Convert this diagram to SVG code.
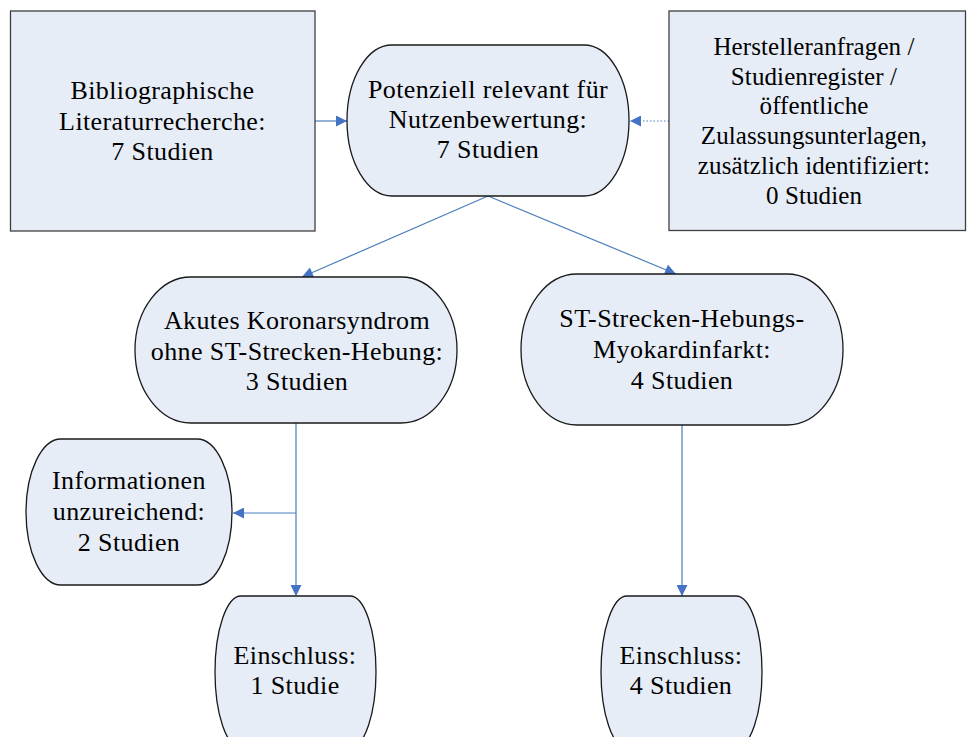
<svg xmlns="http://www.w3.org/2000/svg" width="967" height="737" viewBox="0 0 967 737">
<style>
.box{fill:#e7edf7;stroke:#3f3f3f;stroke-width:1.3}
.term{fill:#e7edf7;stroke:#1a1a1a;stroke-width:1.3}
.t{font-family:"Liberation Serif","Times New Roman",serif;font-size:26px;letter-spacing:0.4px;fill:#000;text-anchor:middle}
.s{font-size:25px;letter-spacing:0.1px}
.c{fill:none;stroke:#4a7ebb;stroke-width:1.2}
.dot{fill:none;stroke:#4a7ebb;stroke-width:1.2;stroke-dasharray:1.5 2}
</style>
<defs>
<marker id="arr" viewBox="0 0 10 10" refX="10" refY="5" markerWidth="13" markerHeight="11" markerUnits="userSpaceOnUse" orient="auto">
<path d="M0,0 L10,5 L0,10 z" fill="#4472c4"/>
</marker>
</defs>
<rect width="967" height="737" fill="#fff"/>
<g id="connectors">
<path class="c" d="M315,121 L347,121" marker-end="url(#arr)"/>
<path class="dot" d="M669,121 L630,121" marker-end="url(#arr)"/>
<path class="c" d="M488,196 L302,277" marker-end="url(#arr)"/>
<path class="c" d="M488,196 L676,274" marker-end="url(#arr)"/>
<path class="c" d="M296,423 L296,596" marker-end="url(#arr)"/>
<path class="c" d="M296,513 L233,513" marker-end="url(#arr)"/>
<path class="c" d="M682,425 L682,596" marker-end="url(#arr)"/>
</g>
<g id="n-biblio">
<rect class="box" x="10.5" y="11" width="304.5" height="220"/>
<text class="t" x="162.5" y="99">Bibliographische</text>
<text class="t" x="162.5" y="129.5">Literaturrecherche:</text>
<text class="t" x="162.5" y="160">7 Studien</text>
</g>
<g id="n-potenziell">
<rect class="term" x="347" y="45" width="282" height="151" rx="45" ry="75.5"/>
<text class="t" x="488" y="98">Potenziell relevant für</text>
<text class="t" x="488" y="128">Nutzenbewertung:</text>
<text class="t" x="488" y="158">7 Studien</text>
</g>
<g id="n-hersteller">
<rect class="box" x="669" y="11" width="296.5" height="219.5"/>
<text class="t s" x="814" y="55">Herstelleranfragen /</text>
<text class="t s" x="814" y="84.5">Studienregister /</text>
<text class="t s" x="814" y="114">öffentliche</text>
<text class="t s" x="814" y="144">Zulassungsunterlagen,</text>
<text class="t s" x="814" y="174">zusätzlich identifiziert:</text>
<text class="t s" x="814" y="204">0 Studien</text>
</g>
<g id="n-aks">
<rect class="term" x="135" y="277" width="322" height="146" rx="56" ry="73"/>
<text class="t" x="297" y="329">Akutes Koronarsyndrom</text>
<text class="t" x="297" y="359.5">ohne ST-Strecken-Hebung:</text>
<text class="t" x="297" y="390">3 Studien</text>
</g>
<g id="n-stemi">
<rect class="term" x="521" y="274" width="322" height="151" rx="56" ry="75.5"/>
<text class="t" x="682" y="327">ST-Strecken-Hebungs-</text>
<text class="t" x="682" y="358">Myokardinfarkt:</text>
<text class="t" x="682" y="389">4 Studien</text>
</g>
<g id="n-info">
<rect class="term" x="26" y="439" width="206" height="146" rx="35" ry="73"/>
<text class="t" x="129" y="489">Informationen</text>
<text class="t" x="129" y="520">unzureichend:</text>
<text class="t" x="129" y="551">2 Studien</text>
</g>
<g id="n-einschluss1">
<rect class="term" x="215" y="596" width="161" height="152" rx="26" ry="76"/>
<text class="t" x="295" y="664">Einschluss:</text>
<text class="t" x="295" y="694">1 Studie</text>
</g>
<g id="n-einschluss2">
<rect class="term" x="601" y="596" width="161" height="152" rx="26" ry="76"/>
<text class="t" x="681" y="664">Einschluss:</text>
<text class="t" x="681" y="694">4 Studien</text>
</g>
</svg>
